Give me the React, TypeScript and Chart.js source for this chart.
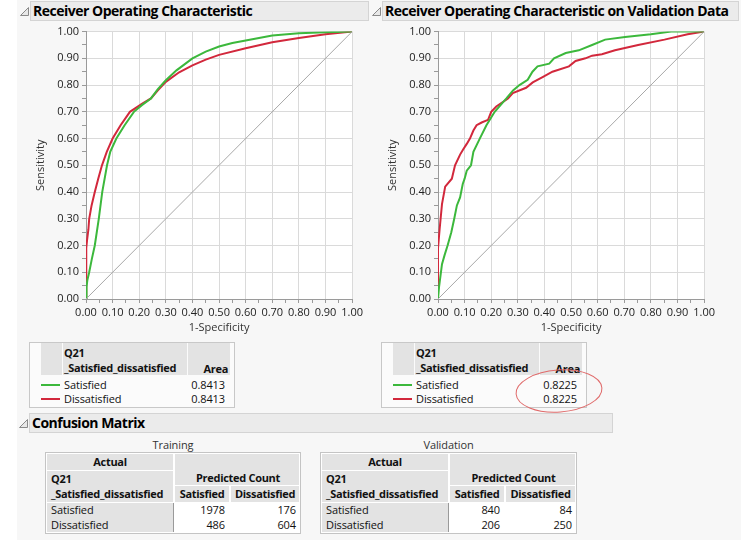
import React, { useEffect, useRef } from "react";
import { Chart, registerables } from "chart.js";
Chart.register(...registerables);

const FONT = "'Open Sans', 'Noto Sans', sans-serif";
const GREEN = "#3cb83c";
const RED = "#d2283c";

// ROC curve data (1-Specificity, Sensitivity)
const trainSatX = [0, 0.002, 0.005, 0.012, 0.022, 0.033, 0.048, 0.061, 0.079, 0.091, 0.114, 0.145, 0.18, 0.21, 0.244, 0.27, 0.3, 0.34, 0.4, 0.45, 0.5, 0.55, 0.6, 0.7, 0.8, 0.9, 1.0];
const trainSatY = [0, 0.045, 0.07, 0.1, 0.15, 0.2, 0.3, 0.4, 0.5, 0.55, 0.6, 0.65, 0.7, 0.725, 0.75, 0.785, 0.818, 0.855, 0.9, 0.925, 0.944, 0.957, 0.967, 0.985, 0.994, 0.998, 1.0];
const trainDisX = [0, 0, 0.002, 0.004, 0.009, 0.012, 0.021, 0.033, 0.046, 0.06, 0.078, 0.1, 0.13, 0.165, 0.21, 0.244, 0.27, 0.3, 0.35, 0.4, 0.45, 0.5, 0.6, 0.7, 0.8, 0.9, 1.0];
const trainDisY = [0, 0.12, 0.19, 0.22, 0.26, 0.3, 0.35, 0.4, 0.45, 0.5, 0.55, 0.6, 0.65, 0.7, 0.73, 0.75, 0.78, 0.812, 0.848, 0.874, 0.895, 0.913, 0.938, 0.96, 0.976, 0.99, 1.0];
const valSatX = [0, 0.004, 0.015, 0.025, 0.036, 0.05, 0.061, 0.071, 0.083, 0.093, 0.1, 0.108, 0.124, 0.133, 0.157, 0.182, 0.213, 0.257, 0.282, 0.306, 0.337, 0.355, 0.374, 0.418, 0.436, 0.48, 0.529, 0.579, 0.628, 0.703, 0.8, 0.876, 1.0];
const valSatY = [0, 0.045, 0.13, 0.165, 0.2, 0.25, 0.3, 0.35, 0.38, 0.43, 0.45, 0.48, 0.5, 0.55, 0.6, 0.65, 0.7, 0.75, 0.78, 0.8, 0.82, 0.85, 0.87, 0.88, 0.9, 0.92, 0.93, 0.95, 0.97, 0.98, 0.99, 1.0, 1.0];
const valDisX = [0, 0, 0.006, 0.015, 0.027, 0.052, 0.064, 0.083, 0.095, 0.108, 0.12, 0.133, 0.145, 0.164, 0.188, 0.2, 0.219, 0.263, 0.281, 0.331, 0.356, 0.393, 0.43, 0.492, 0.517, 0.554, 0.579, 0.616, 0.665, 0.752, 0.851, 0.938, 1.0];
const valDisY = [0, 0.19, 0.26, 0.355, 0.42, 0.45, 0.5, 0.54, 0.56, 0.58, 0.6, 0.63, 0.65, 0.66, 0.67, 0.7, 0.72, 0.75, 0.77, 0.79, 0.81, 0.83, 0.85, 0.87, 0.89, 0.9, 0.91, 0.915, 0.93, 0.95, 0.97, 0.99, 1.0];
const diagX = [0, 1];
const diagY = [0, 1];

const legendLabels = ["Satisfied", "Dissatisfied"];
const trainArea = ["0.8413", "0.8413"];
const valArea = ["0.8225", "0.8225"];
const predLabels = ["Satisfied", "Dissatisfied"];
const trainCounts = [[1978, 176], [486, 604]];
const valCounts = [[840, 84], [206, 250]];

const pts = (xs: number[], ys: number[]) => xs.map((x, i) => ({ x, y: ys[i] }));

function RocChart({ left, top, satX, satY, disX, disY }: any) {
  const ref = useRef<HTMLCanvasElement>(null);
  useEffect(() => {
    const plotBg = {
      id: "plotBg",
      beforeDraw(chart: any) {
        const { ctx, chartArea } = chart;
        ctx.save();
        ctx.fillStyle = "#ffffff";
        ctx.fillRect(chartArea.left, chartArea.top, chartArea.width, chartArea.height);
        ctx.restore();
      },
    };
    const isMajor = (v: number) => Math.round(v * 100) % 10 === 0;
    const axis = (title: string, isY: boolean) => ({
      type: "linear",
      min: 0,
      max: 1,
      ticks: {
        stepSize: 0.05,
        autoSkip: false,
        maxRotation: 0,
        minRotation: 0,
        padding: 3,
        color: "#222",
        font: { family: FONT, size: 11 },
        callback: (v: any) => (isMajor(Number(v)) ? Number(v).toFixed(2) : ""),
      },
      grid: {
        color: (c: any) => (c.tick && isMajor(c.tick.value) ? "#dadada" : "rgba(0,0,0,0)"),
        tickColor: "#9a9a9a",
        tickLength: 4,
        lineWidth: 1,
      },
      border: { color: "#9a9a9a", width: 1 },
      title: {
        display: true,
        text: title,
        color: "#333",
        font: { family: FONT, size: 11 },
        padding: isY ? { top: 4, bottom: 0 } : { top: 0, bottom: 3 },
      },
      afterFit: (s: any) => {
        if (isY) s.width = 56;
        else s.height = 38;
      },
    });
    const chart = new Chart(ref.current as HTMLCanvasElement, {
      type: "line",
      data: {
        datasets: [
          { data: pts(diagX, diagY), borderColor: "#a8a8a8", borderWidth: 1, pointRadius: 0, tension: 0 },
          { label: legendLabels[0], data: pts(satX, satY), borderColor: GREEN, borderWidth: 2, pointRadius: 0, tension: 0 },
          { label: legendLabels[1], data: pts(disX, disY), borderColor: RED, borderWidth: 2, pointRadius: 0, tension: 0 },
        ],
      },
      options: {
        animation: false,
        responsive: false,
        maintainAspectRatio: false,
        parsing: false,
        layout: { padding: { left: 0, right: 11, top: 7, bottom: 0 } },
        plugins: { legend: { display: false }, tooltip: { enabled: false } },
        scales: { x: axis("1-Specificity", false), y: axis("Sensitivity", true) } as any,
      } as any,
      plugins: [plotBg],
    });
    return () => chart.destroy();
  }, []);
  return (
    <canvas
      ref={ref}
      width={336}
      height={315}
      style={{ position: "absolute", left, top, width: 336, height: 315 }}
    />
  );
}

function T({ x, y, text, bold, align, color, size }: any) {
  const w = 240;
  let left = x;
  if (align === "right") left = x - w;
  if (align === "center") left = x - w / 2;
  return (
    <div
      style={{
        position: "absolute",
        left,
        top: y - 8,
        width: w,
        height: 16,
        lineHeight: "16px",
        fontSize: size || 11,
        fontWeight: bold ? 700 : 400,
        letterSpacing: bold ? "-0.3px" : "-0.1px",
        textAlign: align || "left",
        color: color || "#111",
        whiteSpace: "nowrap",
      }}
    >
      {text}
    </div>
  );
}

function Box({ x, y, w, h, bg, border }: any) {
  return (
    <div
      style={{
        position: "absolute",
        left: x,
        top: y,
        width: w,
        height: h,
        background: bg || "transparent",
        border: border || "none",
        boxSizing: "border-box",
      }}
    />
  );
}

function Tri({ x, y }: any) {
  return (
    <svg style={{ position: "absolute", left: x, top: y }} width={9} height={9}>
      <polygon points="0.5,8.5 8.5,0.5 8.5,8.5" fill="#e8e8e8" stroke="#8a8a8a" strokeWidth={1} />
    </svg>
  );
}

function Header({ x, y, w, text }: any) {
  return (
    <>
      <Tri x={x - 10} y={y + 6} />
      <div
        style={{
          position: "absolute",
          left: x,
          top: y,
          width: w,
          height: 20,
          background: "#ebebeb",
          border: "1px solid #d4d4d4",
          boxSizing: "border-box",
          fontSize: 14,
          fontWeight: 700,
          letterSpacing: "-0.5px",
          lineHeight: "18px",
          paddingLeft: 2,
          color: "#000",
          whiteSpace: "nowrap",
          overflow: "hidden",
        }}
      >
        {text}
      </div>
    </>
  );
}

function AreaTable({ x0, areas }: any) {
  const G = "#e3e3e3";
  return (
    <>
      <Box x={x0} y={342} w={206} h={66} bg="#fbfbfb" border="1px solid #c8c8c8" />
      <Box x={x0 + 12} y={343} w={21} h={32} bg={G} />
      <Box x={x0 + 34} y={343} w={124} h={32} bg={G} />
      <Box x={x0 + 159} y={343} w={42} h={32} bg={G} />
      <T x={x0 + 35} y={353} text="Q21" bold />
      <T x={x0 + 35} y={368} text="_Satisfied_dissatisfied" bold />
      <T x={x0 + 199} y={369} text="Area" bold align="right" />
      {legendLabels.map((lab, i) => (
        <React.Fragment key={lab}>
          <Box x={x0 + 12} y={384 + i * 14} w={19} h={2} bg={i === 0 ? GREEN : RED} />
          <T x={x0 + 35} y={385 + i * 14} text={lab} />
          <T x={x0 + 196} y={385 + i * 14} text={areas[i]} align="right" />
        </React.Fragment>
      ))}
    </>
  );
}

function ConfTable({ x0, x1, c1, c2, label, counts }: any) {
  const G = "#e3e3e3";
  return (
    <>
      <T x={(x0 + x1) / 2} y={445} text={label} align="center" color="#333" />
      <Box x={x0} y={452} w={x1 - x0} h={82} bg="#ffffff" border="1px solid #c4c4c4" />
      <Box x={x0 + 2} y={454} w={c1 - x0 - 2} h={16} bg={G} />
      <Box x={x0 + 2} y={471} w={c1 - x0 - 2} h={31} bg={G} />
      <Box x={c1 + 2} y={454} w={x1 - c1 - 4} h={31} bg={G} />
      <Box x={c1 + 2} y={486} w={c2 - c1 - 2} h={16} bg={G} />
      <Box x={c2 + 2} y={486} w={x1 - c2 - 4} h={16} bg={G} />
      <Box x={x0 + 2} y={503} w={c1 - x0 - 2} h={29} bg={G} />
      <Box x={c1} y={503} w={1} h={29} bg="#9a9a9a" />
      <T x={(x0 + c1) / 2 + 1} y={462} text="Actual" bold align="center" />
      <T x={x0 + 6} y={479} text="Q21" bold />
      <T x={x0 + 6} y={494} text="_Satisfied_dissatisfied" bold />
      <T x={(c1 + x1) / 2 + 1} y={478} text="Predicted Count" bold align="center" />
      <T x={(c1 + c2) / 2 + 1} y={494} text={predLabels[0]} bold align="center" />
      <T x={(c2 + x1) / 2} y={494} text={predLabels[1]} bold align="center" />
      {legendLabels.map((lab, i) => (
        <React.Fragment key={lab}>
          <T x={x0 + 6} y={510 + i * 15} text={lab} />
          <T x={c2 - 4} y={510 + i * 15} text={String(counts[i][0])} align="right" />
          <T x={x1 - 5} y={510 + i * 15} text={String(counts[i][1])} align="right" />
        </React.Fragment>
      ))}
    </>
  );
}

export default function App() {
  return (
    <div
      style={{
        position: "absolute",
        left: 0,
        top: 0,
        width: 748,
        height: 540,
        background: "#ffffff",
        overflow: "hidden",
        fontFamily: FONT,
      }}
    >
      <Box x={17} y={0} w={724} h={540} bg="#f7f7f7" />
      <Header x={30} y={1} w={339} text="Receiver Operating Characteristic" />
      <Header x={382} y={1} w={357} text="Receiver Operating Characteristic on Validation Data" />
      <RocChart left={30} top={22} satX={trainSatX} satY={trainSatY} disX={trainDisX} disY={trainDisY} />
      <RocChart left={382} top={22} satX={valSatX} satY={valSatY} disX={valDisX} disY={valDisY} />
      <AreaTable x0={29} areas={trainArea} />
      <AreaTable x0={381} areas={valArea} />
      <svg style={{ position: "absolute", left: 510, top: 365 }} width={100} height={52}>
        <ellipse cx={49} cy={26} rx={43} ry={21} fill="none" stroke="#e06a6a" strokeWidth={1} transform="rotate(-4 49 26)" />
      </svg>
      <Header x={29} y={413} w={584} text="Confusion Matrix" />
      <ConfTable x0={45} x1={301} c1={173} c2={229} label="Training" counts={trainCounts} />
      <ConfTable x0={320} x1={577} c1={448} c2={504} label="Validation" counts={valCounts} />
    </div>
  );
}
